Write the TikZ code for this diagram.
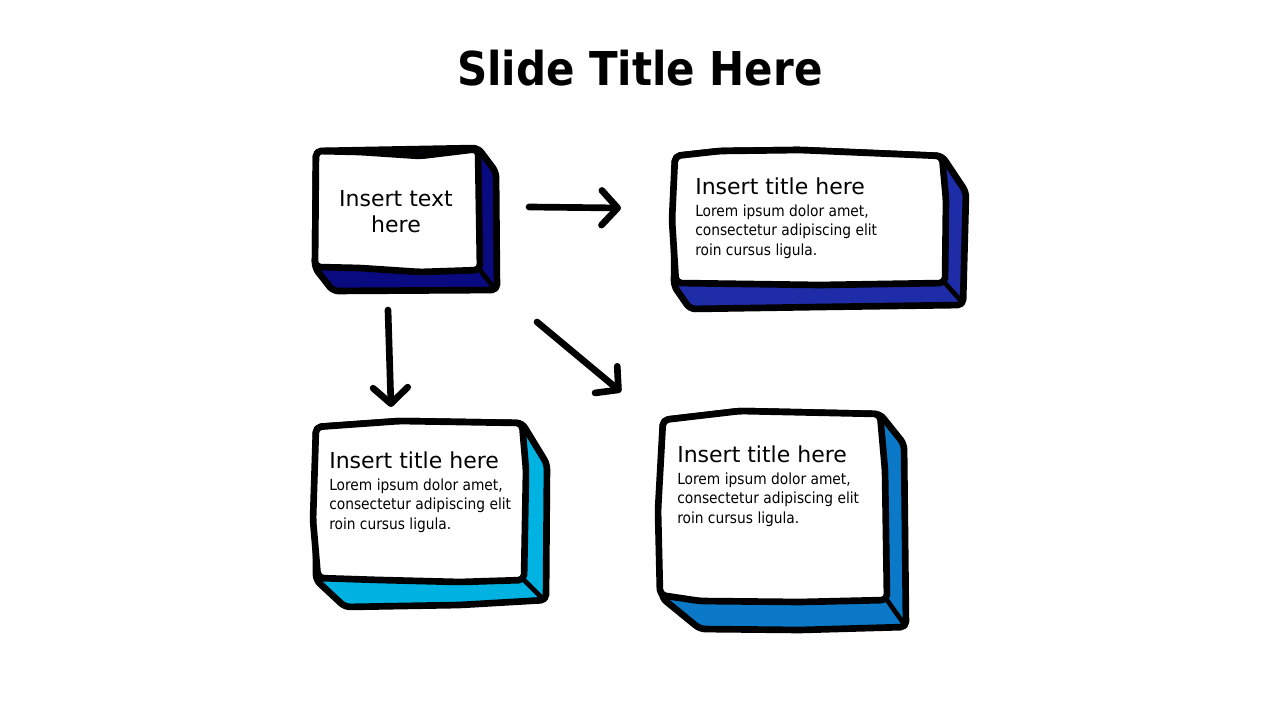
\documentclass[tikz,border=0pt]{standalone}
\usepackage{fontspec}
\setmainfont{DejaVu Sans}
\newfontfamily\condfont{DejaVu Sans Condensed}
\usetikzlibrary{arrows.meta}
\definecolor{cnavy}{RGB}{10,10,128}
\definecolor{cblue}{RGB}{30,44,168}
\definecolor{csky}{RGB}{0,178,226}
\definecolor{cmid}{RGB}{11,121,200}
\tikzset{
  outline/.style={draw=black, line width=5pt, line join=round, rounded corners=4pt},
  frontface/.style={outline, fill=white},
  foldline/.style={draw=black, line width=3.5pt, line cap=round},
  flowarrow/.style={draw=black, line width=5pt, line cap=round, line join=round,
    -{Straight Barb[length=12pt,width=26pt,round,line width=5pt]}},
  boxtitle/.style={anchor=north west, align=left, inner sep=0pt, font=\fontsize{16.5}{19}\selectfont},
  boxbody/.style={anchor=north west, align=left, inner sep=0pt, font=\condfont\fontsize{11.5}{14.3}\selectfont},
}
\begin{document}
\begin{tikzpicture}[x=0.75pt,y=-0.75pt]
\useasboundingbox[fill=white] (0,0) rectangle (1280,720);
\node[font=\condfont\bfseries\fontsize{35}{40}\selectfont] (title) at (640,68) {Slide Title Here};

% Box 1
\path[outline, fill=cnavy] (316,151) -- (478,148) -- (496,172) -- (497,290) -- (333,291) -- (315,268) -- cycle;
\path[frontface] (316,151) -- (360,152) -- (420,156) -- (478,149) -- (480,270) -- (420,272) -- (360,268) -- (315,267) -- cycle;
\draw[foldline] (480,270) -- (494,288);
\node[align=center, font=\fontsize{16.5}{19.5}\selectfont] (b1) at (396,212) {Insert text\\here};

% Box 2
\path[outline, fill=cblue] (675,156) -- (720,151) -- (800,150) -- (942,156) -- (966,192) -- (963,305) -- (820,307) -- (690,309) -- (674,286) -- cycle;
\path[frontface] (675,156) -- (720,151) -- (800,150) -- (942,156) -- (946,200) -- (945,283) -- (820,285) -- (676,283) -- (672,220) -- cycle;
\draw[foldline] (945,283) -- (962,302);
\node[boxtitle] (t2) at (695,178) {Insert title here};
\node[boxbody] (d2) at (695,205) {Lorem ipsum dolor amet,\\consectetur adipiscing elit\\roin cursus ligula.};

% Box 3
\path[outline, fill=csky] (316,427) -- (400,421) -- (522,423) -- (547,464) -- (546,600) -- (460,605) -- (345,607) -- (316,580) -- cycle;
\path[frontface] (316,427) -- (400,421) -- (522,423) -- (526,470) -- (524,580) -- (460,582) -- (380,580) -- (318,578) -- (313,520) -- cycle;
\draw[foldline] (524,580) -- (544,600);
\node[boxtitle] (t3) at (329,452) {Insert title here};
\node[boxbody] (d3) at (329,479) {Lorem ipsum dolor amet,\\consectetur adipiscing elit\\roin cursus ligula.};

% Box 4
\path[outline, fill=cmid] (663,420) -- (740,411) -- (880,414) -- (904,444) -- (906,627) -- (800,630) -- (700,629) -- (662,598) -- cycle;
\path[frontface] (663,420) -- (740,411) -- (880,414) -- (885,470) -- (887,600) -- (800,602) -- (700,601) -- (660,595) -- (658,510) -- cycle;
\draw[foldline] (887,600) -- (904,624);
\node[boxtitle] (t4) at (677,446) {Insert title here};
\node[boxbody] (d4) at (677,473) {Lorem ipsum dolor amet,\\consectetur adipiscing elit\\roin cursus ligula.};

% Arrows
\coordinate (a1s) at (529,207);
\coordinate (a1e) at (621,208);
\coordinate (a2s) at (388,310);
\coordinate (a2e) at (391,407);
\coordinate (a3s) at (537,322);
\coordinate (a3e) at (621,392);
\draw[flowarrow] (a1s) -- (a1e);
\draw[flowarrow] (a2s) -- (a2e);
\draw[flowarrow] (a3s) -- (a3e);
\end{tikzpicture}
\end{document}
